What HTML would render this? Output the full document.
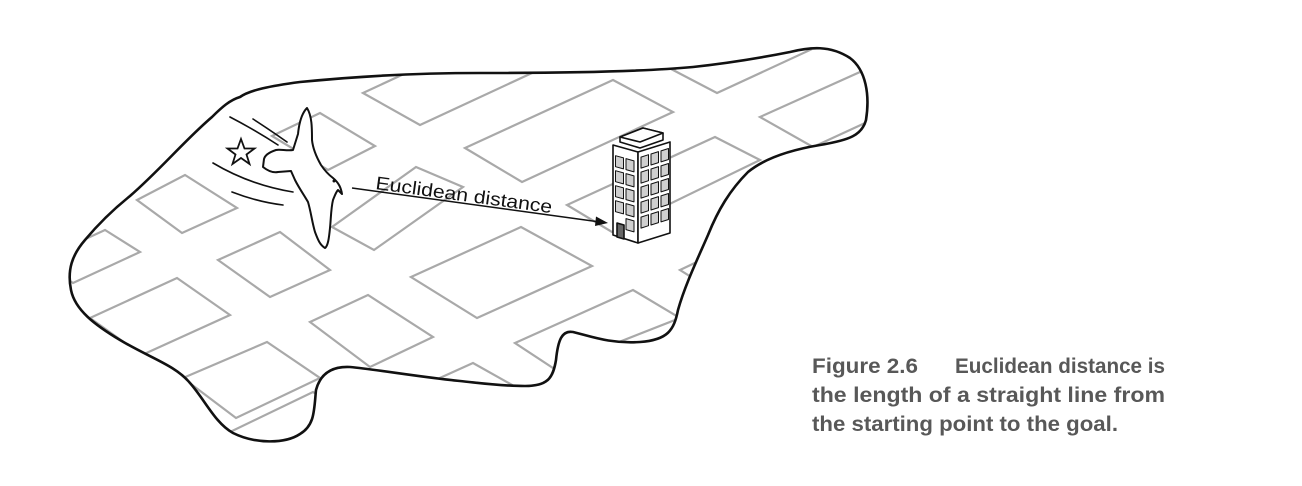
<!DOCTYPE html>
<html><head><meta charset="utf-8"><style>
html,body{margin:0;padding:0;background:#fff;}
svg{display:block;}
</style></head><body>
<svg width="1302" height="486" viewBox="0 0 1302 486" xmlns="http://www.w3.org/2000/svg">
<defs>
<clipPath id="blobclip"><path d="M240,97 C250,90 270,86 300,82 C360,76 420,73 480,73 C560,73 640,72 693,67 C730,63 760,58 790,52 C810,47 830,45 850,58 C866,70 870,95 866,120 C862,135 850,140 820,145 C790,150 765,158 748,172 C730,190 718,210 708,235 C698,258 685,285 678,310 C674,330 668,340 640,342 C610,344 590,336 573,332 C562,330 558,340 556,360 C553,378 548,386 525,386 C500,386 480,383 460,381 C420,377 380,370 350,367 C330,366 320,375 316,390 C314,410 315,425 300,434 C285,444 255,444 233,433 C215,423 205,400 190,383 C175,365 150,358 120,340 C95,325 75,310 71,290 C67,270 72,255 85,240 C100,222 115,208 130,196 C160,170 185,140 212,117 C222,107 230,100 240,97 Z"/></clipPath>
</defs>
<g clip-path="url(#blobclip)" fill="none" stroke="#a9a9a9" stroke-width="2.2" stroke-linejoin="miter">
<polygon points="363,93 420,125 532,73 475,41"/>
<polygon points="272,136 320,113 375,146 328,170"/>
<polygon points="465,148 522,182 673,112 613,80"/>
<polygon points="137,200 185,175 237,208 182,233"/>
<polygon points="218,260 280,232 330,270 270,297"/>
<polygon points="416,167 463,187 374,250 332,227"/>
<polygon points="567,205 715,137 760,160 612,232"/>
<polygon points="760,117 860,72 915,100 813,147"/>
<polygon points="673,70 717,93 810,50 766,27"/>
<polygon points="411,277 521,227 592,266 477,318"/>
<polygon points="515,343 633,290 680,318 553,368"/>
<polygon points="680,270 760,232 800,256 720,295"/>
<polygon points="380,405 473,363 530,395 440,440"/>
<polygon points="310,322 368,295 433,337 370,367"/>
<polygon points="90,318 177,278 230,315 142,355"/>
<polygon points="183,378 267,342 320,378 236,418"/>
<polygon points="230,432 313,392 360,420 277,460"/>
<polygon points="40,260 105,230 140,252 73,283"/>
</g>
<path fill="none" stroke="#111" stroke-width="2.6" d="M240,97 C250,90 270,86 300,82 C360,76 420,73 480,73 C560,73 640,72 693,67 C730,63 760,58 790,52 C810,47 830,45 850,58 C866,70 870,95 866,120 C862,135 850,140 820,145 C790,150 765,158 748,172 C730,190 718,210 708,235 C698,258 685,285 678,310 C674,330 668,340 640,342 C610,344 590,336 573,332 C562,330 558,340 556,360 C553,378 548,386 525,386 C500,386 480,383 460,381 C420,377 380,370 350,367 C330,366 320,375 316,390 C314,410 315,425 300,434 C285,444 255,444 233,433 C215,423 205,400 190,383 C175,365 150,358 120,340 C95,325 75,310 71,290 C67,270 72,255 85,240 C100,222 115,208 130,196 C160,170 185,140 212,117 C222,107 230,100 240,97 Z"/>
<g fill="none" stroke="#111" stroke-width="1.6" stroke-linecap="round">
<path d="M230,117 Q255,130 278,145"/>
<path d="M253,119 Q270,130 287,142"/>
<path d="M213,163 Q250,185 293,192"/>
<path d="M232,192 Q258,202 283,205"/>
</g>
<polygon fill="#fff" stroke="#111" stroke-width="1.8" points="241,139 244.5,148.5 254.5,148.5 246.5,154.5 249.5,164 241,158 232.5,164 235.5,154.5 227.5,148.5 237.5,148.5"/>
<path fill="#fff" stroke="#111" stroke-width="2" stroke-linejoin="round" d="M307,108 C301,114 299,124 298,134 L293,150 C287,151 280,149 276,150 C270,152 265,155 264,159 L263,167 C268,171 273,173 278,172 L291,171 L295,180 C299,188 304,195 308,202 C311,212 312,222 315,232 C318,240 320,245 325,248 C328,246 329,238 330,228 C331,218 331,208 333,200 C335,195 336,192 338,190 L342,194 C341,188 339,183 333,178 C329,175 325,171 321,165 C317,158 313,150 312,140 C312,128 312,116 307,108 Z"/>
<circle cx="334" cy="181" r="1.5" fill="#111"/>
<g>
<line x1="352" y1="188" x2="600" y2="222" stroke="#111" stroke-width="1.5"/>
<polygon points="608,223 596,216.5 595,226" fill="#111"/>
</g>
<text x="375" y="189" font-family="'Liberation Sans', sans-serif" font-size="18.5" fill="#111" transform="rotate(7.8 375 189)" textLength="178" lengthAdjust="spacingAndGlyphs">Euclidean distance</text>
<g stroke="#111" stroke-width="1.6" stroke-linejoin="round">
<polygon points="613,145 638,152 638,243 613,235" fill="#fff"/>
<polygon points="638,152 670,142 670,233 638,243" fill="#fff"/>
<polygon points="620,137 643,128 663,133 663,140 640,148 620,142" fill="#fff"/>
<polygon points="620,137 643,128 663,133 640,142" fill="#fff"/>
<g id="wins" stroke-width="1" fill="#cfcfcf"></g>
<polygon points="617,223 624,225 624,239 617,237" fill="#666"/>
</g>
<g font-family="'Liberation Sans', sans-serif" font-weight="bold" font-size="21" fill="#585858">
<text x="812" y="373" textLength="106" lengthAdjust="spacingAndGlyphs">Figure 2.6</text>
<text x="955" y="373" textLength="210" lengthAdjust="spacingAndGlyphs">Euclidean distance is</text>
<text x="812" y="402" textLength="353" lengthAdjust="spacingAndGlyphs">the length of a straight line from</text>
<text x="812" y="431" textLength="306" lengthAdjust="spacingAndGlyphs">the starting point to the goal.</text>
</g>
</svg>
<script>
var g=document.getElementById('wins');
function poly(pts){var p=document.createElementNS('http://www.w3.org/2000/svg','polygon');p.setAttribute('points',pts.map(function(a){return a[0].toFixed(1)+','+a[1].toFixed(1);}).join(' '));


g.appendChild(p);}
for(var r=0;r<5;r++){
 var lcols=(r==4)?[1]:[0,1];
 for(var ci=0;ci<lcols.length;ci++){var c=lcols[ci];var x0=615.5+c*10.5,x1=x0+8,s=0.28;var y0=155+r*15+(x0-613)*s;
  poly([[x0,y0],[x1,y0+8*s],[x1,y0+8*s+11],[x0,y0+11]]);}
 for(var c2=0;c2<3;c2++){var xa=641+c2*10,xb=xa+7.5,s2=-0.31;var ya=158+r*15+(xa-638)*s2;
  poly([[xa,ya],[xb,ya+7.5*s2],[xb,ya+7.5*s2+11],[xa,ya+11]]);}
}
</script>
</body></html>
